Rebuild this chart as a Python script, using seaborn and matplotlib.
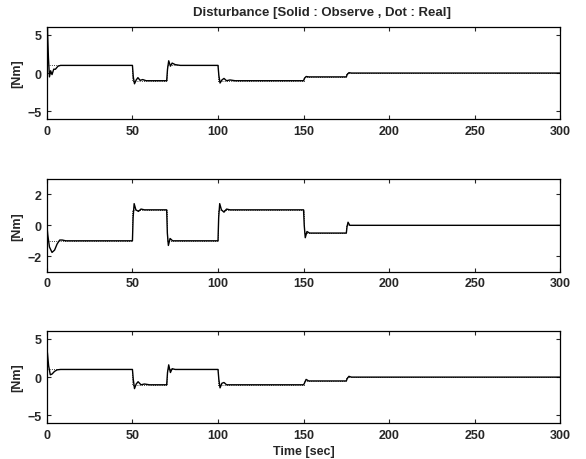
"""Disturbance observer plot"""

import pandas as pd
import numpy as np
import matplotlib
matplotlib.use("Agg")
import matplotlib.pyplot as plt
import seaborn as sns

# step times of the real disturbance
t_real = [0, 50, 70, 100, 150, 175, 300]
real1 = [1, -1, 1, -1, -0.5, 0, 0]
real2 = [-1, 1, -1, 1, -0.5, 0, 0]
real3 = [1, -1, 1, -1, -0.5, 0, 0]

t_obs1 = [0, 0.3, 0.9, 1.5, 2.2, 3, 4, 5, 6.5, 8, 10, 50, 50.5, 51.2, 52.2, 53.2, 54.5, 56, 58,
          70, 70.5, 71.2, 72.2, 73.2, 75, 78, 100, 100.5, 101.2, 102.3, 103.5, 105, 107, 110,
          150, 150.5, 151.5, 153, 175, 175.5, 176.5, 178, 300]
obs1 = [0, 6, 2, -0.5, 0.3, -0.2, 0.5, 0.5, 0.9, 1.0, 1, 1, -0.5, -1.4, -0.9, -0.6, -0.95, -0.85, -1,
        -1, 0.5, 1.6, 0.9, 1.3, 1.1, 1.0, 1, -0.3, -1.3, -0.9, -0.7, -1.0, -0.9, -1,
        -1, -0.7, -0.45, -0.5, -0.5, -0.2, 0.05, 0, 0]

t_obs2 = [0, 0.5, 1.5, 3, 4.5, 6, 7.5, 9, 11, 50, 50.4, 51, 52, 53.5, 55, 57,
          70, 70.4, 71, 72, 73.5, 100, 100.4, 101, 102, 103.5, 105, 107,
          150, 150.4, 151, 152, 153.5, 175, 175.4, 176, 177, 300]
obs2 = [0, -0.6, -1.4, -1.75, -1.6, -1.2, -0.95, -0.95, -1, -1, 0.5, 1.4, 1.0, 0.9, 1.05, 1,
        1, -0.5, -1.3, -0.85, -1.0, -1, 0.5, 1.4, 1.0, 0.85, 1.05, 1,
        1, 0, -0.8, -0.4, -0.5, -0.5, -0.1, 0.2, 0.0, 0]

t_obs3 = [0, 0.3, 1, 2, 3, 4.5, 6, 8, 50, 50.5, 51.2, 52.2, 53.3, 55, 57, 60,
          70, 70.5, 71.2, 72.2, 73.2, 75, 100, 100.5, 101.2, 102.3, 103.5, 105, 108,
          150, 150.5, 151.5, 153, 175, 175.5, 176.5, 178, 300]
obs3 = [0, 3.2, 1.5, 0.3, 0.4, 0.75, 0.95, 1, 1, -0.3, -1.5, -0.9, -0.6, -1.0, -0.9, -1,
        -1, 0.6, 1.6, 0.6, 1.1, 1.0, 1, -0.3, -1.4, -0.8, -0.7, -1.0, -1,
        -1, -0.8, -0.3, -0.5, -0.5, -0.2, 0.1, 0, 0]

ylims = [(-6, 6), (-3, 3), (-6, 6)]
yticks = [[-5, 0, 5], [-2, 0, 2], [-5, 0, 5]]

sns.set_style("ticks")
plt.rcParams['font.family'] = ['Liberation Sans', 'DejaVu Sans']
plt.rcParams['font.size'] = 9

fig = plt.figure(figsize=(5.86, 4.60), dpi=100)
boxes = [[0.080, 0.739, 0.876, 0.200],
         [0.080, 0.407, 0.876, 0.202],
         [0.080, 0.078, 0.876, 0.200]]

series = [(t_obs1, obs1, real1), (t_obs2, obs2, real2), (t_obs3, obs3, real3)]

for i, (tt, oo, rr) in enumerate(series):
    ax = fig.add_axes(boxes[i])
    real_df = pd.DataFrame({"t": t_real, "d": rr})
    obs_df = pd.DataFrame({"t": tt, "d": oo})
    sns.lineplot(data=real_df, x="t", y="d", ax=ax, color="black", lw=0.6,
                 linestyle=":", drawstyle="steps-post", estimator=None, sort=False)
    sns.lineplot(data=obs_df, x="t", y="d", ax=ax, color="black", lw=1.0,
                 estimator=None, sort=False)
    ax.set_xlim(0, 300)
    ax.set_ylim(*ylims[i])
    ax.set_xticks([0, 50, 100, 150, 200, 250, 300])
    ax.set_yticks(yticks[i])
    ax.tick_params(direction="in", top=True, right=True, length=3, width=0.8,
                   labelsize=9, pad=4)
    for lab in ax.get_xticklabels() + ax.get_yticklabels():
        lab.set_fontweight("bold")
    for s in ax.spines.values():
        s.set_linewidth(0.9)
        s.set_color("black")
    ax.set_ylabel("[Nm]", fontsize=9, fontweight="bold", labelpad=3)
    ax.set_xlabel("")
    if i == 0:
        ax.set_title("Disturbance [Solid : Observe , Dot : Real]", fontsize=9.5,
                     fontweight="bold", pad=9, x=0.535)
    if i == 2:
        ax.set_xlabel("Time [sec]", fontsize=9, fontweight="bold", labelpad=3)

fig.savefig("out.png", dpi=100, facecolor="white")
